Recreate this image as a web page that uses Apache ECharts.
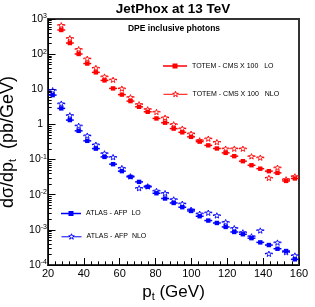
<!DOCTYPE html>
<html><head><meta charset="utf-8">
<script src="https://cdn.jsdelivr.net/npm/echarts@6/dist/echarts.min.js"></script>
<style>html,body{margin:0;padding:0;background:#fff}#c{width:315px;height:307px}</style>
</head><body><div id="c"></div>
<script>
// ---- data ----
const ptRed = [27.4, 32.2, 37.1, 41.9, 46.7, 51.5, 56.3, 61.2, 66.0, 70.8, 75.6, 80.5, 85.3, 90.1,
  94.9, 99.8, 104.6, 109.4, 114.2, 119.1, 123.9, 128.7, 133.5, 138.4, 143.2, 148.0, 152.8, 157.7];
const ptBlue = [22.6, 27.4, 32.2, 37.1, 41.9, 46.7, 51.5, 56.3, 61.2, 66.0, 70.8, 75.6, 80.5, 85.3, 90.1,
  94.9, 99.8, 104.6, 109.4, 114.2, 119.1, 123.9, 128.7, 133.5, 138.4, 143.2, 148.0, 152.8, 157.7];
const totemLO = [486, 207, 101, 54, 30.3, 17.9, 10.6, 7.06, 4.61, 3.17, 2.29, 1.48, 1.12, 0.759,
  0.596, 0.443, 0.324, 0.254, 0.207, 0.155, 0.125, 0.090, 0.069, 0.055, 0.0468, 0.0418, 0.0247, 0.029];
const totemNLO = [674, 288, 140, 75, 41, 23.3, 18.9, 10.6, 6.0, 3.79, 2.73, 2.29, 1.58, 1.02,
  0.769, 0.554, 0.357, 0.399, 0.319, 0.207, 0.207, 0.207, 0.125, 0.115, 0.0305, 0.0596, 0.0277, 0.0337];
const atlasLO = [6.84, 2.86, 1.33, 0.657, 0.341, 0.205, 0.119, 0.074, 0.0468, 0.0321, 0.0232, 0.0167,
  0.0110, 0.0078, 0.00583, 0.00441, 0.00345, 0.00244, 0.00184, 0.00157, 0.00121, 0.00087, 0.00075,
  0.00058, 0.00044, 0.00037, 0.00029, 0.00025, 0.000145];
const atlasNLO = [9.5, 3.96, 1.84, 0.925, 0.486, 0.269, 0.152, 0.119, 0.058, 0.0337, 0.0156, 0.0175,
  0.0130, 0.0112, 0.00745, 0.00561, 0.00379, 0.00291, 0.00311, 0.00261, 0.00168, 0.00113, 0.00086,
  0.00066, 0.00097, 0.000211, 0.00044, 0.000234, 0.000189];
const HALF_BIN = 2.2; // half width of horizontal error bar (GeV)
const xTicks = [20, 40, 60, 80, 100, 120, 140, 160];
const N_TL = 'TOTEM - CMS X 100   LO';
const N_TN = 'TOTEM - CMS X 100   NLO';
const N_AL = 'ATLAS - AFP  LO';
const N_AN = 'ATLAS - AFP  NLO';
const TITLE = 'JetPhox at 13 TeV';
const SUBTITLE = 'DPE inclusive photons';

// ---- styling ----
const F = 'Liberation Sans, Arial, sans-serif';
const RED = '#ff0000', BLUE = '#0000ff';

function starPoints(cx, cy, r) {
  const pts = [];
  for (let k = 0; k < 10; k++) {
    const a = -Math.PI / 2 + k * Math.PI / 5;
    const rr = k % 2 === 0 ? r : r * 0.42;
    pts.push([cx + rr * Math.cos(a), cy + rr * Math.sin(a)]);
  }
  return pts;
}
function makeRender(kind, color) {
  return function (params, api) {
    const x = api.value(0), y = api.value(1);
    const c = api.coord([x, y]);
    const l = api.coord([x - HALF_BIN, y]);
    const r = api.coord([x + HALF_BIN, y]);
    const m = kind === 'LO' ? 0 : 2.8;
    const children = [
      {type: 'line', shape: {x1: l[0], y1: c[1], x2: c[0] - m, y2: c[1]}, style: {stroke: color, lineWidth: 1.5}},
      {type: 'line', shape: {x1: c[0] + m, y1: c[1], x2: r[0], y2: c[1]}, style: {stroke: color, lineWidth: 1.5}}
    ];
    if (kind === 'LO') {
      children.push({type: 'rect', shape: {x: c[0] - 2.2, y: c[1] - 2.2, width: 4.4, height: 4.4}, style: {fill: color}});
    } else {
      children.push({type: 'polygon', shape: {points: starPoints(c[0], c[1] + 0.5, 3.0)}, style: {fill: 'none', stroke: color, lineWidth: 0.9}});
    }
    return {type: 'group', children: children};
  };
}
function iconLO(W) {
  const a = W / 2 - 2.5, b = W / 2 + 2.5;
  return 'path://M0,1.75H' + W + 'V3.25H0Z M' + a + ',0H' + b + 'V5H' + a + 'Z';
}
function iconNLO(W) {
  const pts = starPoints(W / 2, 3.0, 3.0);
  let s = 'path://M0,3L' + (W / 2 - 2.6) + ',3M' + (W / 2 + 2.6) + ',3L' + W + ',3M';
  s += pts.map(p => p[0].toFixed(2) + ',' + p[1].toFixed(2)).join('L') + 'Z';
  return s;
}
const minorY = [];
for (let e = -4; e < 3; e++) for (let k = 2; k <= 9; k++) minorY.push(k * Math.pow(10, e));

const legTxt = (pad) => ({fontSize: 7, lineHeight: 8, color: '#000', fontFamily: F, padding: [pad, 0, 0, 0]});
function leg(name, icon, W, H, left, top, color, open, pad) {
  return {
    data: [{name: name, icon: icon,
      itemStyle: open ? {color: 'transparent', borderColor: color, borderWidth: 1} : {color: color, borderWidth: 0}}],
    left: left, top: top, itemWidth: W, itemHeight: H, padding: 0, selectedMode: false,
    textStyle: legTxt(pad)
  };
}

const chart = echarts.init(document.getElementById('c'), null, {renderer: 'canvas'});
chart.setOption({
  animation: false,
  backgroundColor: '#fff',
  title: [
    {text: TITLE, left: 173, top: 2, textAlign: 'center', padding: 0,
      textStyle: {fontSize: 13.5, fontWeight: 'bold', fontFamily: F, color: '#000'}},
    {text: SUBTITLE, left: 174, top: 24, textAlign: 'center', padding: 0,
      textStyle: {fontSize: 8.5, fontWeight: 'bold', fontFamily: F, color: '#000'}}
  ],
  legend: [
    leg(N_TL, iconLO(24), 24, 5, 163, 59, RED, false, 6),
    leg(N_TN, iconNLO(24), 24, 5.5, 163, 87, RED, true, 6),
    leg(N_AL, iconLO(20), 20, 5, 61, 207, BLUE, false, 5),
    leg(N_AN, iconNLO(20), 20, 5.5, 61, 230, BLUE, true, 5)
  ],
  grid: {left: 48, right: 16, top: 19, bottom: 42, show: true, borderColor: '#333', borderWidth: 2,
    containLabel: false, outerBoundsMode: 'none'},
  xAxis: {
    type: 'value', min: xTicks[0], max: xTicks[xTicks.length - 1], interval: 20,
    axisLine: {lineStyle: {color: '#000', width: 1}},
    axisTick: {inside: true, length: 7, lineStyle: {color: '#000'}},
    minorTick: {show: true, splitNumber: 5, length: 3.7, lineStyle: {color: '#000'}},
    splitLine: {show: false},
    axisLabel: {fontSize: 11, color: '#000', fontFamily: F, margin: 3},
    name: '{a|p}{s|t}{a| (GeV)}', nameLocation: 'middle', nameGap: 16,
    nameTextStyle: {rich: {
      a: {fontSize: 17, lineHeight: 20, fontFamily: F, color: '#000', verticalAlign: 'middle'},
      s: {fontSize: 11, lineHeight: 8, fontFamily: F, color: '#000', verticalAlign: 'bottom'}
    }}
  },
  yAxis: [{
    type: 'log', logBase: 10, min: 1e-4, max: 1e3, interval: 1, splitNumber: 7,
    axisLine: {show: true, lineStyle: {color: '#000', width: 1}},
    axisTick: {show: true, inside: true, length: 7.5, lineStyle: {color: '#000'}},
    splitLine: {show: false},
    axisLabel: {
      margin: 1, color: '#000',
      formatter: function (v) {
        const e = Math.round(Math.log10(v));
        if (e === 0) return '{b|1}{p|}';
        if (e === 1) return '{b|10}{p|}';
        return '{b|10}{s|' + e + '}';
      },
      rich: {
        b: {fontSize: 10.5, lineHeight: 12, fontFamily: F, color: '#000', verticalAlign: 'middle'},
        s: {fontSize: 7, lineHeight: 7, fontFamily: F, color: '#000', verticalAlign: 'top'},
        p: {width: 4}
      }
    },
    name: '{a|d\u03c3/dp}{s|t}{a|  (pb/GeV)}', nameLocation: 'middle', nameGap: 21,
    nameTextStyle: {rich: {
      a: {fontSize: 18, lineHeight: 21, fontFamily: F, color: '#000', verticalAlign: 'middle'},
      s: {fontSize: 11, lineHeight: 8, fontFamily: F, color: '#000', verticalAlign: 'bottom'}
    }}
  }, {
    type: 'log', logBase: 10, min: 1e-4, max: 1e3, position: 'left', offset: 0,
    axisLine: {show: false}, axisLabel: {show: false}, splitLine: {show: false},
    axisTick: {show: true, inside: true, length: 3.7, lineStyle: {color: '#000'}, customValues: minorY}
  }],
  series: [
    {name: N_TL, type: 'custom', renderItem: makeRender('LO', RED), itemStyle: {color: RED},
      encode: {x: 0, y: 1}, data: ptRed.map((p, i) => [p, totemLO[i]])},
    {name: N_TN, type: 'custom', renderItem: makeRender('NLO', RED), itemStyle: {color: RED},
      encode: {x: 0, y: 1}, data: ptRed.map((p, i) => [p, totemNLO[i]])},
    {name: N_AL, type: 'custom', renderItem: makeRender('LO', BLUE), itemStyle: {color: BLUE},
      encode: {x: 0, y: 1}, data: ptBlue.map((p, i) => [p, atlasLO[i]])},
    {name: N_AN, type: 'custom', renderItem: makeRender('NLO', BLUE), itemStyle: {color: BLUE},
      encode: {x: 0, y: 1}, data: ptBlue.map((p, i) => [p, atlasNLO[i]])}
  ]
});
</script></body></html>
